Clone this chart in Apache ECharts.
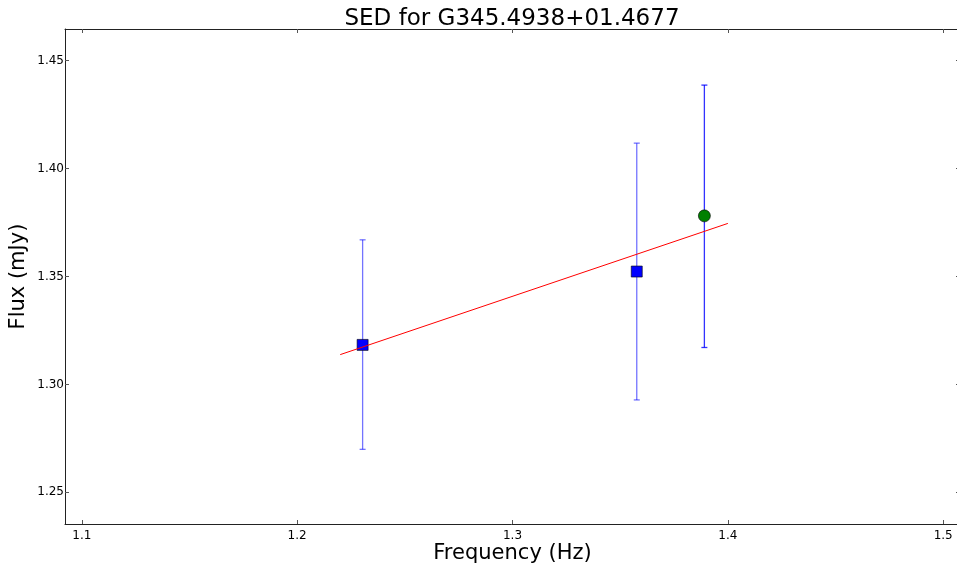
<!DOCTYPE html>
<html>
<head>
<meta charset="utf-8">
<script src="https://cdn.jsdelivr.net/npm/echarts@6/dist/echarts.min.js"></script>
<style>
  html, body { margin: 0; padding: 0; background: #fff; }
  #chart { width: 957px; height: 567px; }
</style>
</head>
<body>
<div id="chart"></div>
<script>
// Survey measurements (squares) with 1-sigma errors
const surveyFreq = [1.2304, 1.3577];
const surveyFlux = [1.3183, 1.3523];
const surveyLow  = [1.2699, 1.2928];
const surveyHigh = [1.3670, 1.4118];

// Follow-up measurement (circle)
const extraFreq = [1.3891];
const extraFlux = [1.3781];
const extraLow  = [1.3171];
const extraHigh = [1.4387];

// Power-law fit endpoints
const fitFreq = [1.22, 1.40];
const fitFlux = [1.3138, 1.3746];

// Tick positions
const xTicks = [1.1, 1.2, 1.3, 1.4, 1.5];
const yTicks = [1.25, 1.30, 1.35, 1.40, 1.45];

const xRange = [1.0922, 1.5078];
const yRange = [1.2353, 1.4647];

const font = 'DejaVu Sans';

function errorBarSeries(freq, low, high, opacity, z) {
  return {
    type: 'custom',
    z: z,
    silent: true,
    data: freq.map((f, i) => [f, low[i], high[i]]),
    renderItem: function (params, api) {
      const top = api.coord([api.value(0), api.value(2)]);
      const bot = api.coord([api.value(0), api.value(1)]);
      const cap = 3;
      const style = { stroke: '#0000ff', lineWidth: 1.3, opacity: opacity };
      return {
        type: 'group',
        children: [
          { type: 'line', shape: { x1: top[0], y1: top[1], x2: bot[0], y2: bot[1] }, style: style },
          { type: 'line', shape: { x1: top[0] - cap, y1: top[1], x2: top[0] + cap, y2: top[1] }, style: style },
          { type: 'line', shape: { x1: bot[0] - cap, y1: bot[1], x2: bot[0] + cap, y2: bot[1] }, style: style }
        ]
      };
    }
  };
}

const tickStyle = { show: true, inside: true, length: 4, lineStyle: { color: '#555', width: 1 } };
const lineStyle = { show: true, lineStyle: { color: '#222', width: 1 } };

const chart = echarts.init(document.getElementById('chart'), null, { renderer: 'canvas' });
chart.setOption({
  animation: false,
  backgroundColor: '#fff',
  title: {
    text: 'SED for G345.4938+01.4677',
    left: 507, textAlign: 'center', top: 3,
    textStyle: { fontFamily: font, fontSize: 23, fontWeight: 'normal', color: '#000' }
  },
  grid: { left: 65, right: -3, top: 29, bottom: 43, containLabel: false, outerBoundsMode: 'none' },
  xAxis: [{
    type: 'value', min: xRange[0], max: xRange[1], position: 'bottom',
    name: 'Frequency (Hz)', nameLocation: 'middle', nameGap: 19, nameMoveOverlap: false,
    nameTextStyle: { fontFamily: font, fontSize: 21, color: '#000' },
    axisLine: lineStyle,
    axisTick: Object.assign({ customValues: xTicks }, tickStyle),
    axisLabel: { customValues: xTicks, margin: 6, fontFamily: font, fontSize: 12, color: '#000',
      formatter: v => v.toFixed(1) },
    splitLine: { show: false }
  }, {
    type: 'value', min: xRange[0], max: xRange[1], position: 'top',
    axisLine: lineStyle,
    axisTick: Object.assign({ customValues: xTicks }, tickStyle),
    axisLabel: { show: false }, splitLine: { show: false }
  }],
  yAxis: [{
    type: 'value', min: yRange[0], max: yRange[1], position: 'left',
    name: 'Flux (mJy)', nameLocation: 'middle', nameGap: 36, nameRotate: 90, nameMoveOverlap: false,
    nameTextStyle: { fontFamily: font, fontSize: 21, color: '#000' },
    axisLine: lineStyle,
    axisTick: Object.assign({ customValues: yTicks }, tickStyle),
    axisLabel: { customValues: yTicks, margin: 1, fontFamily: font, fontSize: 12, color: '#000',
      formatter: v => v.toFixed(2) },
    splitLine: { show: false }
  }, {
    type: 'value', min: yRange[0], max: yRange[1], position: 'right',
    axisLine: lineStyle,
    axisTick: Object.assign({ customValues: yTicks }, tickStyle),
    axisLabel: { show: false }, splitLine: { show: false }
  }],
  series: [
    errorBarSeries(surveyFreq, surveyLow, surveyHigh, 0.55, 1),
    errorBarSeries(extraFreq, extraLow, extraHigh, 0.8, 1),
    {
      type: 'scatter', z: 2, symbol: 'rect', symbolSize: 11,
      data: surveyFreq.map((f, i) => [f, surveyFlux[i]]),
      itemStyle: { color: '#0000ff', borderColor: '#000', borderWidth: 0.6, opacity: 1 }
    },
    {
      type: 'scatter', z: 2, symbol: 'circle', symbolSize: 12,
      data: extraFreq.map((f, i) => [f, extraFlux[i]]),
      itemStyle: { color: '#008000', borderColor: '#000', borderWidth: 0.6, opacity: 1 }
    },
    {
      type: 'line', z: 3, symbol: 'none', silent: true,
      data: fitFreq.map((f, i) => [f, fitFlux[i]]),
      lineStyle: { color: '#ff0000', width: 1 }
    }
  ]
});
</script>
</body>
</html>
